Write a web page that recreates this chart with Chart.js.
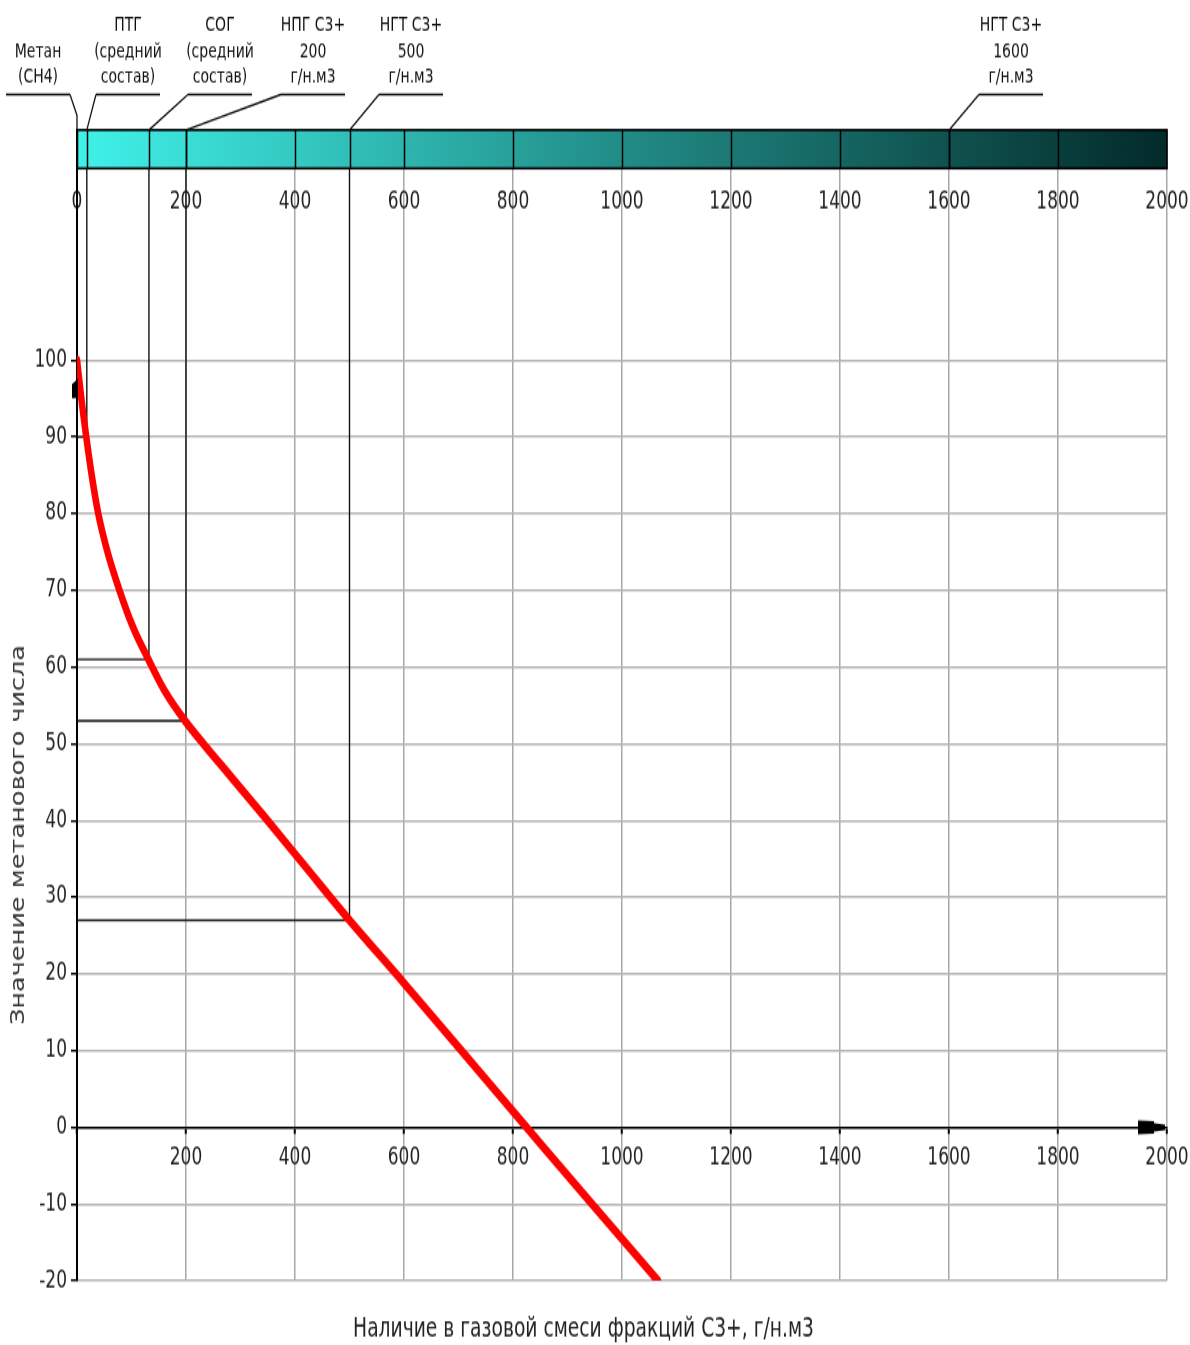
<!DOCTYPE html>
<html>
<head>
<meta charset="utf-8">
<script src="https://cdn.jsdelivr.net/npm/chart.js@4.4.1/dist/chart.umd.min.js"></script>
<style>
  html, body { margin: 0; padding: 0; background: #ffffff; }
  body { height: 1345px; }
  /* the source picture is stretched vertically, so is this one */
  #chart { display: block; transform-origin: 0 0; transform: scaleY(1.39958); }
</style>
</head>
<body>
<canvas id="chart" width="1190" height="961"></canvas>
<script>
// curve: methane number vs C3+ content
const curveX = [0, 8, 17, 27, 39, 56, 78, 104, 131, 160, 198, 265, 345, 420, 500, 600, 710, 825, 945, 1066];
const curveY = [100, 95, 90, 85, 80, 75, 70, 65, 61, 57, 53, 47.2, 40.4, 33.9, 27, 18.8, 9.6, 0, -10, -20];

// gas types marked on the top bar
const markerX = [0, 18, 132, 200, 500, 1600];
const markerY = [null, 90, 61, 53, 27, null];
const markerLabels = [
  ['Метан', '(CH4)'],
  ['ПТГ', '(средний', 'состав)'],
  ['СОГ', '(средний', 'состав)'],
  ['НПГ C3+', '200', 'г/н.м3'],
  ['НГТ C3+', '500', 'г/н.м3'],
  ['НГТ C3+', '1600', 'г/н.м3']
];

// axes
const xMin = 0, xMax = 2000, xStep = 200;
const yMin = -20, yMax = 130, yStep = 10, yTickTop = 100;
const barBottom = 125, barTop = 130;

const xTitle = 'Наличие в газовой смеси фракций C3+, г/н.м3';
const yTitle = 'Значение метанового числа';

const FONT = '"DejaVu Sans", Verdana, sans-serif';

// black guide polylines: bar -> curve -> y axis
const guideSets = [];
for (let i in markerX) {
  if (markerY[i] === null) continue;
  guideSets.push({
    data: [
      {x: markerX[i], y: barBottom},
      {x: markerX[i], y: markerY[i]},
      {x: 0, y: markerY[i]}
    ],
    borderColor: '#111111',
    borderWidth: 1.4,
    pointRadius: 0,
    tension: 0,
    fill: false
  });
}

const curveData = curveX.map((x, i) => ({x: x, y: curveY[i]}));

// label anchors above the bar (pixel centres, canvas units)
const labelCX = [38, 128, 220, 313, 411, 1011];

const decor = {
  id: 'decor',
  beforeDatasetsDraw(chart) {
    const ctx = chart.ctx;
    const xs = chart.scales.x, ys = chart.scales.y;
    const left = xs.getPixelForValue(xMin), right = xs.getPixelForValue(xMax);
    const top = ys.getPixelForValue(barTop), bottom = ys.getPixelForValue(barBottom);

    // colour bar
    const grad = ctx.createLinearGradient(left, 0, right, 0);
    grad.addColorStop(0, '#40f2e9');
    grad.addColorStop(0.5, '#228c87');
    grad.addColorStop(1, '#032b2a');
    ctx.save();
    ctx.fillStyle = grad;
    ctx.fillRect(left, top, right - left, bottom - top);

    ctx.strokeStyle = '#000';
    ctx.lineWidth = 1.5;
    const cuts = [];
    for (let v = xMin + xStep; v < xMax; v += xStep) cuts.push(v);
    markerX.forEach(v => cuts.push(v));
    cuts.forEach(v => {
      const px = Math.round(xs.getPixelForValue(v)) + 0.5;
      ctx.beginPath();
      ctx.moveTo(px, top);
      ctx.lineTo(px, bottom);
      ctx.stroke();
    });
    ctx.lineWidth = 1.6;
    ctx.strokeRect(left, top, right - left, bottom - top);
    ctx.restore();
  },
  afterDraw(chart) {
    const ctx = chart.ctx;
    const xs = chart.scales.x, ys = chart.scales.y;
    const barPx = ys.getPixelForValue(barTop);

    ctx.save();
    // leader lines and labels
    ctx.strokeStyle = '#111';
    ctx.lineWidth = 1.3;
    ctx.fillStyle = '#111';
    ctx.font = '14px ' + FONT;
    ctx.textAlign = 'center';
    ctx.textBaseline = 'middle';
    const lineY = 67.5;
    const rows = [17.9, 37.1, 55.7];
    markerLabels.forEach((lines, i) => {
      const cx = labelCX[i];
      const mx = xs.getPixelForValue(markerX[i]);
      ctx.beginPath();
      ctx.moveTo(cx - 32, lineY);
      ctx.lineTo(cx + 32, lineY);
      if (i === 0) {
        ctx.moveTo(cx + 32, lineY);
        ctx.lineTo(mx, lineY + 15);
        ctx.lineTo(mx, barPx);
      } else {
        ctx.moveTo(cx - 32, lineY);
        ctx.lineTo(mx, barPx);
      }
      ctx.stroke();
      const off = 3 - lines.length;
      lines.forEach((t, j) => ctx.fillText(t, cx, rows[j + off]));
    });

    // y axis arrow
    const x0 = xs.getPixelForValue(0);
    const yA = ys.getPixelForValue(96.3);
    ctx.fillStyle = '#000';
    ctx.beginPath();
    ctx.moveTo(x0 + 1, yA - 7);
    ctx.lineTo(x0 - 5, yA - 3);
    ctx.lineTo(x0 - 5, yA + 7);
    ctx.lineTo(x0 + 1, yA + 7);
    ctx.closePath();
    ctx.fill();

    // x axis arrow
    const y0 = ys.getPixelForValue(0);
    const xE = xs.getPixelForValue(xMax);
    ctx.beginPath();
    ctx.moveTo(xE - 29, y0 - 5);
    ctx.lineTo(xE - 13, y0 - 4.5);
    ctx.lineTo(xE - 13, y0 - 3);
    ctx.lineTo(xE - 2, y0 - 2);
    ctx.lineTo(xE - 2, y0 + 2);
    ctx.lineTo(xE - 13, y0 + 3);
    ctx.lineTo(xE - 13, y0 + 4.5);
    ctx.lineTo(xE - 29, y0 + 5);
    ctx.closePath();
    ctx.fill();

    // y title
    ctx.fillStyle = '#333';
    ctx.font = '19px ' + FONT;
    const w = ctx.measureText(yTitle).width;
    ctx.translate(19, 596.6);
    ctx.rotate(-Math.PI / 2);
    ctx.scale(271.5 / w, 1);
    ctx.textAlign = 'center';
    ctx.fillText(yTitle, 0, 0);
    ctx.restore();
  }
};

// drop the label overhang padding so the plot keeps its full width
const noOverhang = s => { s.paddingLeft = 0; s.paddingRight = 0; };

const context2d = document.getElementById('chart').getContext('2d');

new Chart(context2d, {
  type: 'line',
  data: {
    datasets: [{
      data: curveData,
      borderColor: '#ff0000',
      borderWidth: 6.5,
      borderCapStyle: 'round',
      borderJoinStyle: 'round',
      pointRadius: 0,
      cubicInterpolationMode: 'monotone',
      fill: false
    }].concat(guideSets)
  },
  options: {
    responsive: false,
    animation: false,
    events: [],
    layout: { padding: { top: 92.9, right: 23, left: 0, bottom: 0 } },
    plugins: {
      legend: { display: false },
      tooltip: { enabled: false },
      title: {
        display: true,
        position: 'bottom',
        text: xTitle,
        color: '#222',
        font: { family: FONT, size: 18.7, weight: 'normal', lineHeight: 1 },
        padding: { top: 26, bottom: 1.2 }
      }
    },
    scales: {
      x: {
        type: 'linear',
        position: { y: 0 },
        min: xMin,
        max: xMax,
        afterFit: noOverhang,
        grid: { color: '#a8a8a8', lineWidth: 1.5, tickColor: '#000', tickWidth: 2, tickLength: 3.6 },
        border: { color: '#000', width: 1.6 },
        ticks: {
          stepSize: xStep,
          padding: 8.8,
          color: '#222',
          font: { family: FONT, size: 17 },
          maxRotation: 0,
          callback: v => (v === 0 ? '' : String(v))
        }
      },
      xTop: {
        axis: 'x',
        type: 'linear',
        position: { y: barBottom },
        min: xMin,
        max: xMax,
        afterFit: noOverhang,
        grid: { display: false, drawTicks: false },
        border: { display: false },
        ticks: {
          stepSize: xStep,
          padding: 14,
          color: '#222',
          font: { family: FONT, size: 17 },
          maxRotation: 0,
          callback: v => String(v)
        }
      },
      y: {
        type: 'linear',
        position: 'left',
        min: yMin,
        max: yMax,
        afterBuildTicks: s => { s.ticks = s.ticks.filter(t => t.value <= yTickTop); },
        afterFit: s => { s.width = 77; },
        grid: { color: '#b4b4b4', lineWidth: 1.4, tickColor: '#000', tickWidth: 1.5, tickLength: 6 },
        border: { color: '#000', width: 2 },
        ticks: {
          stepSize: yStep,
          padding: 4,
          color: '#222',
          font: { family: FONT, size: 17 }
        }
      }
    }
  },
  plugins: [decor]
});
</script>
</body>
</html>
